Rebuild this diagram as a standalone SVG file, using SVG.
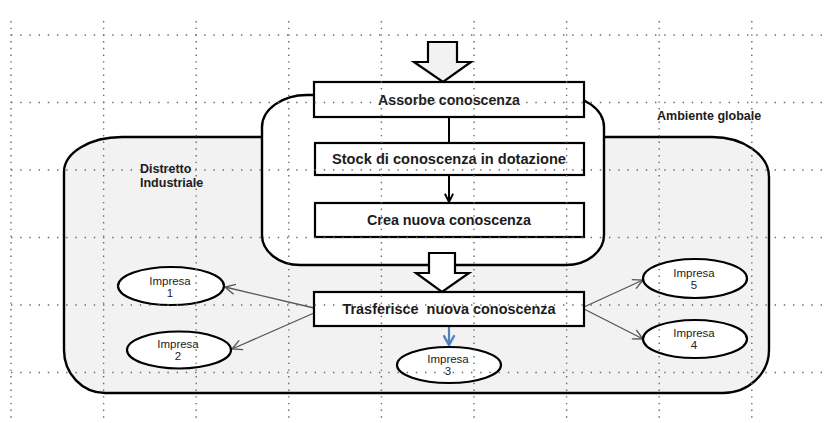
<svg xmlns="http://www.w3.org/2000/svg" width="824" height="423" viewBox="0 0 824 423">
  <defs>
    <style>
      .frame { stroke: #000; stroke-width: 2.4; }
      .box { fill: #fff; stroke: #000; stroke-width: 2.2; }
      .ell { fill: #fff; stroke: #000; stroke-width: 2.2; }
      .blk { stroke: #000; stroke-width: 2.2; stroke-linejoin: miter; }
      .lbl { font-family: "Liberation Sans", Arial, sans-serif; font-weight: bold; font-size: 14px; fill: #1c1c1c; text-anchor: middle; }
      .imp { font-family: "Liberation Sans", Arial, sans-serif; font-size: 11.5px; fill: #222; text-anchor: middle; }
      .cap { font-family: "Liberation Sans", Arial, sans-serif; font-weight: bold; font-size: 12.5px; fill: #1c1c1c; }
      .gray { stroke: #555; stroke-width: 1.3; fill: none; }
      .gridh { stroke: #6a6a6a; stroke-width: 1.4; stroke-dasharray: 1.4 7.8; }
      .gridv { stroke: #6a6a6a; stroke-width: 1.4; stroke-dasharray: 1.4 5.3; }
    </style>
    <marker id="openGray" viewBox="0 0 12 12" refX="11" refY="6" markerWidth="12" markerHeight="12" markerUnits="userSpaceOnUse" orient="auto">
      <path d="M1,1 L11,6 L1,11" fill="none" stroke="#555" stroke-width="1.3"/>
    </marker>
    <marker id="openBlack" viewBox="0 0 12 12" refX="11" refY="6" markerWidth="11" markerHeight="11" markerUnits="userSpaceOnUse" orient="auto">
      <path d="M2,1.5 L11,6 L2,10.5" fill="none" stroke="#000" stroke-width="2"/>
    </marker>
    <marker id="openBlue" viewBox="0 0 12 12" refX="11" refY="6" markerWidth="13" markerHeight="13" markerUnits="userSpaceOnUse" orient="auto">
      <path d="M2,1 L11,6 L2,11" fill="none" stroke="#4f81bd" stroke-width="2.2"/>
    </marker>
  </defs>

  <rect width="824" height="423" fill="#fff"/>

  <!-- industrial district area -->
  <g id="distretto">
    <path class="frame" fill="#f2f2f2" d="M122,137 H712 A57,40 0 0 1 769,177 V350 A46,43 0 0 1 723,393 H105 A41,43 0 0 1 64,350 V172 A58,35 0 0 1 122,137 Z"/>
    <text class="cap" x="140" y="173">Distretto</text>
    <text class="cap" x="140" y="187">Industriale</text>
  </g>

  <!-- global environment container -->
  <g id="ambiente">
    <path class="frame" fill="#fff" d="M307,95 H559 A45,32 0 0 1 604,127 V235 A38,30 0 0 1 566,265 H300 A38,30 0 0 1 262,235 V127 A45,32 0 0 1 307,95 Z"/>
    <text class="cap" x="657" y="120">Ambiente globale</text>
  </g>

  <!-- block arrows -->
  <g id="freccia-ingresso">
    <path class="blk" fill="#f2f2f2" d="M428,42 H457 V62 H471 L443,82 L414,62 H428 Z"/>
  </g>
  <g id="freccia-uscita">
    <path class="blk" fill="#fff" d="M429,253 H455 V273 H469 L442,292 L416,273 H429 Z"/>
  </g>

  <!-- connectors -->
  <g id="connettori">
    <line x1="449" y1="117" x2="449" y2="143" stroke="#000" stroke-width="2"/>
    <line x1="449" y1="175" x2="449" y2="202" stroke="#000" stroke-width="2" marker-end="url(#openBlack)"/>
    <line class="gray" x1="314" y1="308" x2="225" y2="287" marker-end="url(#openGray)"/>
    <line class="gray" x1="314" y1="313" x2="232" y2="349" marker-end="url(#openGray)"/>
    <line class="gray" x1="584" y1="307" x2="643" y2="280" marker-end="url(#openGray)"/>
    <line class="gray" x1="584" y1="309" x2="643" y2="339" marker-end="url(#openGray)"/>
    <line x1="449" y1="327" x2="449" y2="345" stroke="#4f81bd" stroke-width="2.2" marker-end="url(#openBlue)"/>
  </g>

  <!-- process steps -->
  <g id="assorbe">
    <rect class="box" x="314" y="82" width="270" height="35"/>
    <text class="lbl" x="449" y="105" textLength="142" lengthAdjust="spacingAndGlyphs">Assorbe conoscenza</text>
  </g>
  <g id="stock">
    <rect class="box" x="315" y="143" width="269" height="32"/>
    <text class="lbl" x="449" y="164" textLength="234" lengthAdjust="spacingAndGlyphs">Stock di conoscenza in dotazione</text>
  </g>
  <g id="crea">
    <rect class="box" x="315" y="203" width="269" height="34"/>
    <text class="lbl" x="449" y="225" textLength="164" lengthAdjust="spacingAndGlyphs">Crea nuova conoscenza</text>
  </g>
  <g id="trasferisce">
    <rect class="box" x="314" y="292" width="270" height="34"/>
    <text class="lbl" x="449" y="314" font-size="15" textLength="213" lengthAdjust="spacingAndGlyphs" xml:space="preserve">Trasferisce  nuova conoscenza</text>
  </g>

  <!-- firms -->
  <g id="impresa1">
    <ellipse class="ell" cx="171" cy="286" rx="53" ry="19"/>
    <text class="imp" x="170" y="285">Impresa</text>
    <text class="imp" x="170" y="297">1</text>
  </g>
  <g id="impresa2">
    <ellipse class="ell" cx="179" cy="350" rx="52" ry="18.5"/>
    <text class="imp" x="178" y="348">Impresa</text>
    <text class="imp" x="178" y="360">2</text>
  </g>
  <g id="impresa3">
    <ellipse class="ell" cx="449" cy="365" rx="52" ry="18"/>
    <text class="imp" x="448" y="363">Impresa</text>
    <text class="imp" x="448" y="375">3</text>
  </g>
  <g id="impresa4">
    <ellipse class="ell" cx="695" cy="339" rx="52" ry="19"/>
    <text class="imp" x="694" y="337">Impresa</text>
    <text class="imp" x="694" y="349">4</text>
  </g>
  <g id="impresa5">
    <ellipse class="ell" cx="695" cy="278.5" rx="52" ry="19.5"/>
    <text class="imp" x="694" y="277">Impresa</text>
    <text class="imp" x="694" y="289">5</text>
  </g>

  <!-- dotted page grid -->
  <g id="griglia">
    <line class="gridh" x1="11" y1="35" x2="824" y2="35"/>
    <line class="gridh" x1="11" y1="102.5" x2="824" y2="102.5"/>
    <line class="gridh" x1="11" y1="170" x2="824" y2="170"/>
    <line class="gridh" x1="11" y1="237.5" x2="824" y2="237.5"/>
    <line class="gridh" x1="11" y1="305" x2="824" y2="305"/>
    <line class="gridh" x1="11" y1="372.5" x2="824" y2="372.5"/>
    <line class="gridv" x1="11" y1="21" x2="11" y2="423"/>
    <line class="gridv" x1="103.6" y1="21" x2="103.6" y2="423"/>
    <line class="gridv" x1="196.2" y1="21" x2="196.2" y2="423"/>
    <line class="gridv" x1="288.8" y1="21" x2="288.8" y2="423"/>
    <line class="gridv" x1="381.4" y1="21" x2="381.4" y2="423"/>
    <line class="gridv" x1="474" y1="21" x2="474" y2="423"/>
    <line class="gridv" x1="566.6" y1="21" x2="566.6" y2="423"/>
    <line class="gridv" x1="659.2" y1="21" x2="659.2" y2="423"/>
    <line class="gridv" x1="751.8" y1="21" x2="751.8" y2="423"/>
  </g>
</svg>
